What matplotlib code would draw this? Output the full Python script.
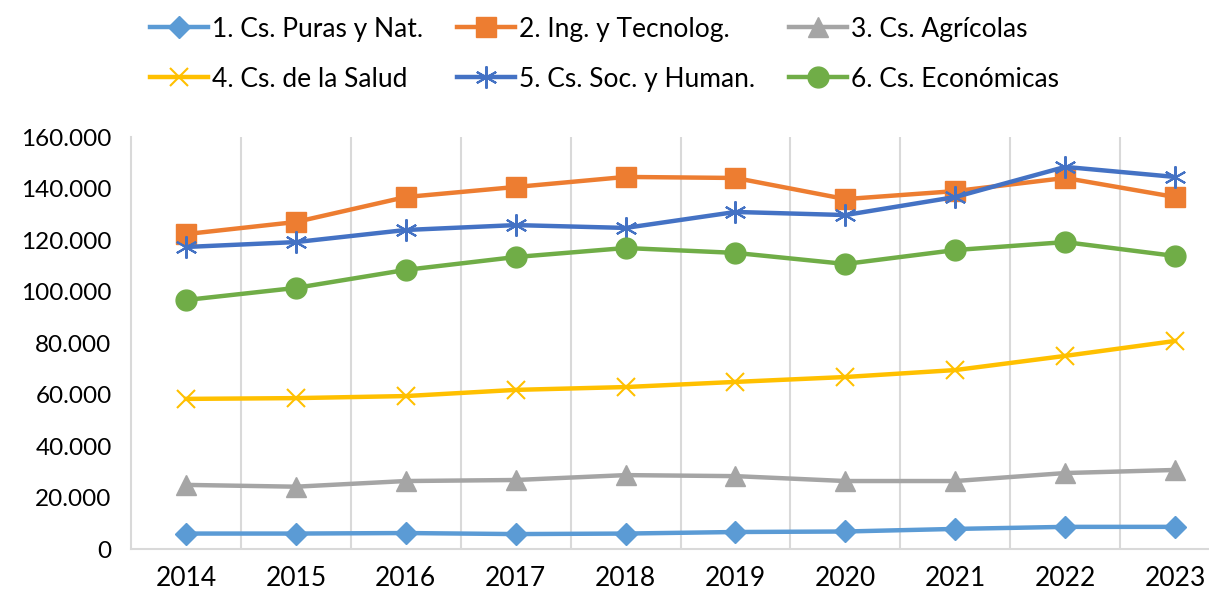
import matplotlib.pyplot as plt
from matplotlib.ticker import FuncFormatter

plt.rcParams['font.family'] = ['Lato', 'DejaVu Sans']

years = ['2014', '2015', '2016', '2017', '2018', '2019', '2020', '2021', '2022', '2023']

puras = [6000, 6000, 6200, 5800, 6000, 6600, 6800, 7800, 8600, 8600]
ingenieria = [122300, 127000, 136700, 140600, 144500, 144100, 135900, 139000, 144100, 136700]
agricolas = [24900, 24200, 26400, 26800, 28700, 28300, 26400, 26400, 29500, 30700]
salud = [58300, 58600, 59400, 61800, 62900, 64900, 66800, 69500, 75000, 80800]
sociales = [117300, 119200, 123900, 125800, 124700, 130900, 129700, 136700, 148400, 144500]
economicas = [96700, 101400, 108400, 113400, 116900, 115000, 110700, 116100, 119200, 113800]

labels = ['1. Cs. Puras y Nat.', '2. Ing. y Tecnolog.', '3. Cs. Agrícolas',
          '4. Cs. de la Salud', '5. Cs. Soc. y Human.', '6. Cs. Económicas']

fig = plt.figure(figsize=(12.09, 5.95), dpi=100)
ax = fig.add_axes([0.1084, 0.0773, 0.909, 0.6924])

x = range(len(years))
lw = 3.2
h1, = ax.plot(x, puras, color='#5B9BD5', lw=lw, marker='D', markersize=11, label=labels[0])
h2, = ax.plot(x, ingenieria, color='#ED7D31', lw=lw, marker='s', markersize=14, label=labels[1])
h3, = ax.plot(x, agricolas, color='#A5A5A5', lw=lw, marker='^', markersize=15, label=labels[2])
h4, = ax.plot(x, salud, color='#FFC000', lw=lw, marker='x', markersize=13, markeredgewidth=1.5,
              label=labels[3])
h5, = ax.plot(x, sociales, color='#4472C4', lw=lw, marker=(6, 2, 0), markersize=16,
              markeredgewidth=1.5, label=labels[4])
h6, = ax.plot(x, economicas, color='#70AD47', lw=lw, marker='o', markersize=15, label=labels[5])

ax.set_xlim(-0.5, 9.5)
ax.set_ylim(0, 160000)
ax.set_yticks(range(0, 160001, 20000))
ax.yaxis.set_major_formatter(FuncFormatter(lambda v, p: f'{int(v):,}'.replace(',', '.')))
ax.set_xticks(list(x))
ax.set_xticklabels(years)
for t in ax.get_xticklabels():
    t.set_fontsize(19)

# vertical lines between categories
for b in range(1, 10):
    ax.axvline(b - 0.5, color='#d9d9d9', lw=1.5, zorder=0)

for s in ['top', 'right']:
    ax.spines[s].set_visible(False)
ax.spines['left'].set_color('#d9d9d9')
ax.spines['bottom'].set_color('#d9d9d9')
ax.spines['left'].set_linewidth(1.5)
ax.spines['bottom'].set_linewidth(1.5)
ax.tick_params(length=0, colors='black')
ax.tick_params(axis='y', pad=14, labelsize=17.5)
ax.tick_params(axis='x', pad=12)

# legend filled row by row like the original
order = [h1, h4, h2, h5, h3, h6]
fig.legend(order, [h.get_label() for h in order], loc='upper center',
           bbox_to_anchor=(0.5, 1.012), ncol=3, frameon=False,
           fontsize=19, handlelength=2.2, handletextpad=0.15, columnspacing=1.3,
           labelspacing=0.95)

fig.savefig('out.png', dpi=100)
